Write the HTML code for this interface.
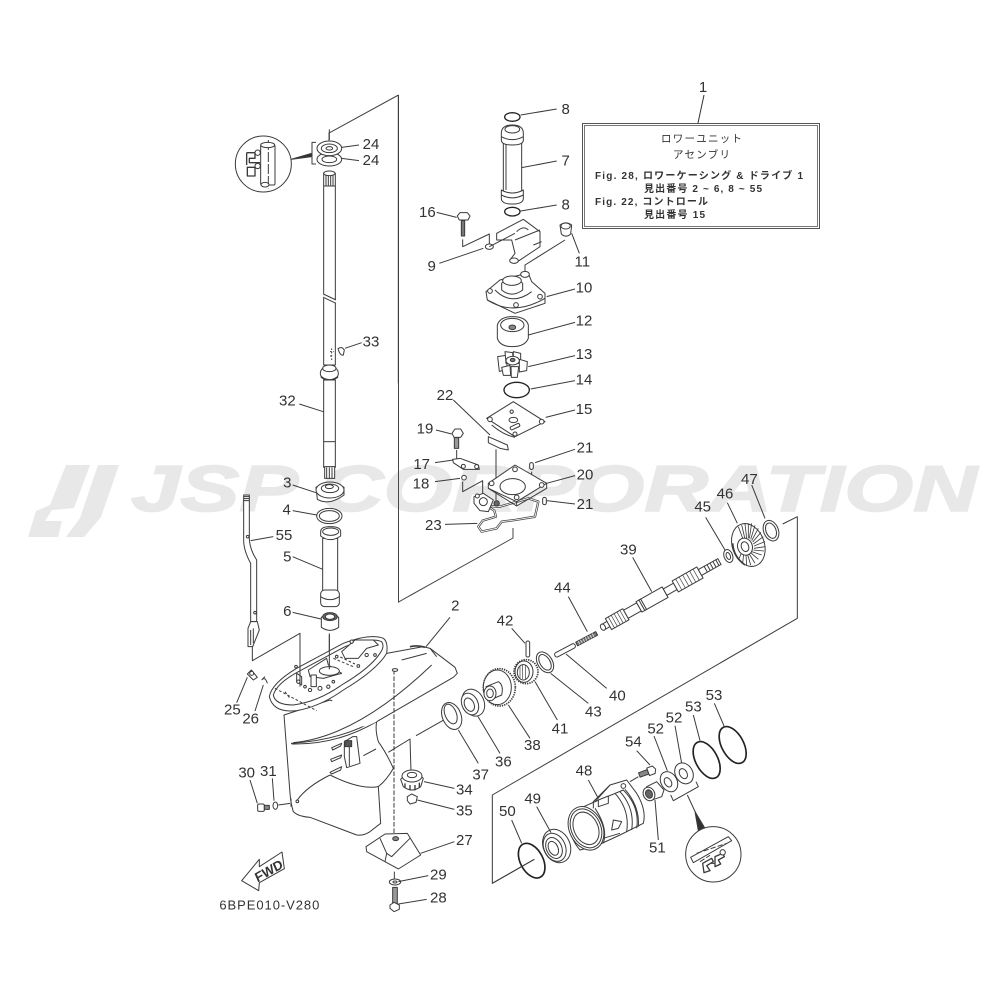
<!DOCTYPE html>
<html><head><meta charset="utf-8"><style>
html,body{margin:0;padding:0;background:#fff}
svg{display:block}
.p *{fill:#fff;stroke:#3a3a3a;stroke-width:3;stroke-linejoin:round}
.p .n{fill:none}
.p .k{fill:#333}
.p .t{fill:none;stroke-width:5;stroke:#222}
.p .f{stroke:none}
.l{fill:none;stroke:#3a3a3a;stroke-width:3}
text{font-family:"Liberation Sans","Noto Sans CJK JP",sans-serif;fill:#333}
.z text{font-size:45px;text-anchor:middle}
.b text{font-size:10px;fill:#333}
</style></head><body>
<svg width="1000" height="1000" viewBox="0 0 1000 1000" xmlns="http://www.w3.org/2000/svg">
<defs><filter id="s" x="0" y="0" width="100%" height="100%"><feGaussianBlur stdDeviation="0.35"/></filter></defs>
<rect width="1000" height="1000" fill="#fff"/>
<g filter="url(#s)">
<!-- watermark -->
<g fill="#e8e8e8">
<polygon points="66,465 90,465 74,508 52,510 45,521 62,521 58,537 28,537 36,511 50,505"/>
<polygon points="98,465 119,465 101,517 84,537 66,537 80,518"/>
<text x="131" y="511" font-size="65" font-weight="bold" font-style="italic" textLength="846" lengthAdjust="spacingAndGlyphs" style="fill:#e8e8e8;stroke:#e8e8e8;stroke-width:1.6">JSP CORPORATION</text>
</g>

<!-- assembly box -->
<g class="b">
<rect x="582.5" y="123.5" width="237" height="105" fill="#fff" stroke="#555" stroke-width="1"/>
<rect x="584.5" y="125.5" width="233" height="101" fill="#fff" stroke="#777" stroke-width="1"/>
<path d="M704 95 L698 123" stroke="#333" fill="none"/>
<text x="661" y="142" textLength="81" style="font-size:10.5px">ロワーユニット</text>
<text x="673" y="158" textLength="57" style="font-size:10.5px">アセンブリ</text>
<text x="595" y="179" textLength="208" font-weight="bold">Fig. 28, ロワーケーシング &amp; ドライブ 1</text>
<text x="644" y="192" textLength="118" font-weight="bold">見出番号 2 ~ 6, 8 ~ 55</text>
<text x="595" y="205" textLength="113" font-weight="bold">Fig. 22, コントロール</text>
<text x="644" y="218" textLength="61" font-weight="bold">見出番号 15</text>
<text x="703" y="92" text-anchor="middle" style="font-size:15px">1</text>
</g>

<!-- main frame lines -->
<path d="M398.5 95 L398.5 602 L513 538 L513 528 M398.5 95 L329 133 L329 142" fill="none" stroke="#444" stroke-width="1"/>

<!-- Zoom 1 region: upper parts -->
<g class="z" transform="translate(400,90) scale(.33333)">
<g class="p">
<ellipse class="t" cx="337" cy="81" rx="23" ry="13" style="stroke-width:4"/>
<ellipse class="t" cx="337" cy="365" rx="23" ry="13" style="stroke-width:4"/>
<rect x="310" y="150" width="55" height="160"/>
<path class="n" d="M318 160V300"/>
<path d="M304 130 Q304 105 337 105 Q370 105 370 130 L370 150 Q370 165 337 165 Q304 165 304 150Z"/>
<ellipse cx="337" cy="118" rx="22" ry="11"/>
<path class="n" d="M304 140 Q337 158 370 140"/>
<path d="M304 300 Q337 318 370 300 L370 325 Q370 342 337 342 Q304 342 304 325Z"/>
<path class="n" d="M304 315 Q337 332 370 315"/>
<!-- 16 bolt -->
<path d="M172 378 L180 368 L202 368 L210 378 L204 390 L178 390Z"/>
<path class="k" d="M184 392h10v46h-10z" style="fill:#777"/>
<path class="n" d="M188 448V470L268 432V465"/>
<!-- 9 plate -->
<path d="M290 430 L370 388 L420 425 L420 470 L345 520 L330 510 L345 490 L335 450 L290 450Z"/>
<ellipse cx="342" cy="512" rx="13" ry="8"/>
<ellipse cx="268" cy="470" rx="12" ry="8"/>
<path class="n" d="M268 470 L345 430 M345 450 L420 420 M400 465 L425 455 M350 425 Q370 405 385 420"/>
<!-- 11 cap -->
<path d="M480 405 Q498 392 515 405 L512 432 Q498 445 484 432Z"/>
<ellipse cx="497" cy="408" rx="14" ry="9"/>
<path class="n" d="M495 450 L375 525 V550"/>
<!-- 10 housing -->
<path d="M258 605 L300 570 L360 555 L385 550 L395 575 L435 610 L435 640 L345 670 L262 630Z"/>
<path d="M305 580 Q335 545 368 580 L368 600 Q335 625 305 600Z"/>
<ellipse cx="336" cy="572" rx="28" ry="14"/>
<ellipse cx="375" cy="553" rx="13" ry="9"/>
<path class="n" d="M285 600 Q335 650 395 605 M262 630 Q340 680 435 625"/>
<circle cx="270" cy="603" r="7"/><circle cx="348" cy="645" r="7"/><circle cx="420" cy="620" r="7"/>
<!-- 12 -->
<path d="M292 705 Q300 680 337 680 Q378 680 385 705 L385 745 Q375 770 337 770 Q300 770 292 745Z"/>
<ellipse cx="337" cy="705" rx="35" ry="20"/>
<ellipse cx="337" cy="712" rx="10" ry="7" class="k" style="fill:#888"/>
<!-- 13 impeller -->
<path d="M293 800 L318 796 L322 838 L298 844Z"/>
<path d="M315 785 L338 788 L340 820 L318 820Z"/>
<path d="M340 785 L362 790 L362 820 L340 820Z"/>
<path d="M358 808 L382 815 L380 842 L358 846Z"/>
<path d="M305 832 L330 826 L332 856 L310 856Z"/>
<path d="M333 830 L356 830 L352 862 L334 862Z"/>
<ellipse cx="338" cy="812" rx="20" ry="13"/>
<ellipse cx="338" cy="810" rx="7" ry="5" style="fill:#777"/>
<ellipse class="t" cx="350" cy="900" rx="38" ry="23" style="stroke-width:4"/>
<!-- 15 plate -->
<path d="M260 985 L340 935 L435 995 L345 1040 Z"/>
<circle cx="270" cy="988" r="7"/><circle cx="425" cy="995" r="7"/><circle cx="345" cy="1032" r="6"/><circle cx="335" cy="965" r="5"/>
<ellipse cx="340" cy="990" rx="13" ry="8"/>
<path class="n" d="M275 1005 Q310 1035 345 1042"/>
<rect x="330" y="1005" width="30" height="10" rx="4" transform="rotate(-25 345 1010)"/>
<!-- 22 -->
<path d="M265 1040 L322 1065 L325 1080 L300 1075 L265 1058Z"/>
<path class="n" d="M288 1078 L288 1230"/>
<!-- 19 -->
<path d="M156 1030 L165 1017 L182 1017 L190 1030 L182 1042 L162 1042Z"/>
<rect x="163" y="1043" width="13" height="32" style="fill:#999"/>
<path class="n" d="M170 1080V1110"/>
<!-- 17 -->
<path d="M158 1108 L180 1105 L235 1125 L238 1138 L190 1138 L160 1118Z"/>
<circle cx="190" cy="1129" r="6"/><circle cx="230" cy="1130" r="6"/>
<circle cx="192" cy="1163" r="7"/>
<path class="n" d="M188 1175V1205L248 1172V1230"/>
<!-- 23 gasket -->
<path class="n" d="M235 1310 L248 1292 L288 1280 L283 1262 L262 1248 L300 1250 L385 1225 L415 1235 L405 1280 L345 1290 L305 1295 L290 1315 L245 1325Z" style="stroke-width:7;stroke:#444"/>
<path class="n" d="M235 1310 L248 1292 L288 1280 L283 1262 L262 1248 L300 1250 L385 1225 L415 1235 L405 1280 L345 1290 L305 1295 L290 1315 L245 1325Z" style="stroke:#fff;stroke-width:2.5"/>
<!-- 21 -->
<rect x="389" y="1118" width="11" height="20" rx="5"/>
<path class="n" d="M395 1145V1190"/>
<rect x="428" y="1222" width="11" height="22" rx="5"/>
<!-- 20 -->
<path d="M265 1180 L345 1125 L440 1180 L350 1235 L265 1195Z"/>
<path class="n" d="M265 1195 L350 1248 L440 1195 V1180 M350 1235V1248"/>
<ellipse cx="338" cy="1190" rx="38" ry="24"/>
<circle cx="275" cy="1180" r="7"/><circle cx="345" cy="1138" r="7"/><circle cx="425" cy="1185" r="7"/><circle cx="350" cy="1222" r="7"/>
<!-- extra plate -->
<path d="M222 1220 L250 1210 L280 1230 L265 1265 L240 1262 L222 1240Z"/>
<circle cx="250" cy="1235" r="12"/><circle cx="232" cy="1218" r="6"/>
<circle cx="290" cy="1240" r="8" style="fill:#666"/>
</g>
<path class="l" d="M362 75L470 57M365 233L470 213M362 363L470 345M110 367L170 382M118 520L250 475M515 430L538 490M440 620L525 597M385 735L525 697M385 830L525 797M392 897L525 872M437 982L525 960M160 930L270 1035M108 1020L155 1032M105 1118L160 1110M105 1175L180 1165M405 1118L525 1078M440 1180L525 1157M440 1232L525 1242M135 1303L232 1300"/>
<text x="497" y="72">8</text><text x="497" y="227">7</text><text x="497" y="359">8</text>
<text x="82" y="381">16</text><text x="95" y="543">9</text><text x="547" y="530">11</text>
<text x="552" y="607">10</text><text x="552" y="707">12</text><text x="552" y="807">13</text>
<text x="552" y="883">14</text><text x="552" y="972">15</text><text x="135" y="930">22</text>
<text x="75" y="1031">19</text><text x="65" y="1137">17</text><text x="63" y="1195">18</text>
<text x="555" y="1087">21</text><text x="555" y="1168">20</text><text x="555" y="1257">21</text>
<text x="100" y="1320">23</text>
<text x="1048" y="1182">47</text><text x="975" y="1225">46</text><text x="908" y="1265">45</text>
<path class="l" d="M1055 1185L1095 1285M982 1238L1012 1300"/>
</g>

<!-- Zoom 4: shaft top -->
<g class="z" transform="translate(210,90) scale(.33333)">
<g class="p">
<circle cx="160" cy="222" r="84"/>
<rect x="152" y="165" width="43" height="120" rx="4"/>
<path class="n" d="M175 150V295" style="stroke-dasharray:30 6"/>
<ellipse cx="173" cy="165" rx="21" ry="8"/><ellipse cx="165" cy="284" rx="12" ry="7"/>
<path class="n" d="M110 188H135V205H118V218H150M110 188V225M110 232H135V258H112V232" style="stroke-width:4"/>
<circle cx="143" cy="188" r="8"/><circle cx="143" cy="228" r="8"/>
<path class="n" d="M318 157H306V222H318"/>
<polygon class="k" points="305,190 243,208 305,200"/>
<ellipse cx="358" cy="208" rx="37" ry="20"/>
<ellipse cx="358" cy="208" rx="22" ry="10"/>
<ellipse cx="358" cy="175" rx="37" ry="22"/>
<ellipse cx="358" cy="175" rx="24" ry="13"/>
<ellipse cx="358" cy="175" rx="10" ry="5"/>
<rect x="341" y="250" width="35" height="575"/>
<path class="n" d="M348 252V288M355 252V288M362 252V288M369 252V288M341 288H376"/>
<ellipse cx="358" cy="250" rx="17" ry="7"/>
<path d="M340 612 L378 630 L378 640 L340 622Z" style="stroke:#fff;stroke-width:1"/>
<path class="n" d="M340 612 L378 630 M340 622 L378 640"/>
<ellipse cx="358" cy="850" rx="27" ry="22"/>
<ellipse cx="358" cy="835" rx="20" ry="10"/>
<path class="n" d="M333 860 Q358 880 384 860" style="stroke-width:5"/>
<rect x="344" y="872" width="30" height="30" style="stroke-width:2"/>
<path class="n" d="M360 785h12M360 798h10M365 775v35" style="stroke-dasharray:5 5"/>
<path d="M384 776 Q395 768 403 780 L400 795 Q390 798 384 776Z"/>
<path class="n" d="M358 118V150 M565 15V880"/>
</g>
<path class="l" d="M395 172L447 165M395 205L447 212M405 775L455 758"/>
<text x="483" y="177">24</text><text x="483" y="225">24</text><text x="483" y="770">33</text>
</g>

<!-- Zoom 5: shaft lower -->
<g class="z" transform="translate(210,380) scale(.33333)">
<g class="p">
<rect x="341" y="0" width="35" height="262"/>
<path class="n" d="M341 185H376"/>
<rect x="344" y="260" width="30" height="35"/>
<path class="n" d="M350 262V295M358 262V295M366 262V295"/>
<path d="M318 322 Q358 295 402 322 L402 345 Q358 378 322 358Z"/>
<ellipse cx="360" cy="330" rx="42" ry="24"/>
<ellipse cx="360" cy="325" rx="26" ry="13"/>
<ellipse cx="358" cy="320" rx="12" ry="6"/>
<ellipse cx="358" cy="408" rx="38" ry="23"/>
<ellipse cx="358" cy="408" rx="30" ry="16"/>
<rect x="338" y="475" width="45" height="165"/>
<rect x="332" y="630" width="56" height="50" rx="12"/>
<path class="n" d="M332 650 Q360 668 388 650"/>
<path d="M332 455 Q332 440 360 440 Q392 440 392 455 L392 468 Q360 490 332 468Z"/>
<ellipse cx="362" cy="455" rx="24" ry="11"/>
<path d="M334 712 Q360 695 386 712 V742 Q360 760 334 742Z"/>
<ellipse cx="360" cy="710" rx="22" ry="12" style="fill:#666"/>
<ellipse cx="360" cy="710" rx="14" ry="8"/>
<path class="n" d="M358 765V910"/>
<!-- 55 rod -->
<path d="M101 345 L118 345 L118 478 Q120 510 140 540 L140 725 L122 725 L122 550 Q100 510 101 478Z"/>
<path class="n" d="M101 350h17M101 356h17M101 362h17"/>
<path d="M122 725 L142 725 L148 750 L128 800 L114 800 L114 745Z"/>
<path class="n" d="M122 750V795M130 745V790"/>
<circle cx="113" cy="470" r="4"/><circle cx="135" cy="698" r="4"/>
</g>
<path class="l" d="M268 72L340 95M248 315L318 338M248 392L320 405M190 470L122 482M248 530L338 568M248 697L333 717"/>
<text x="232" y="77">32</text><text x="232" y="323">3</text><text x="230" y="403">4</text>
<text x="222" y="480">55</text><text x="232" y="545">5</text><text x="232" y="708">6</text>
</g>

<!-- Zoom 2: casing -->
<g class="z" transform="translate(210,590) scale(.33333)">
<g class="p">
<path d="M222 375 L240 610 Q242 640 250 665 Q265 680 300 682 L440 735 Q460 738 480 725 L512 700 L505 590 Q530 570 550 535 Q530 490 505 455 Q495 420 500 395 L360 330Z"/>
<path class="n" d="M243 460 Q400 450 505 385 M245 462 Q380 465 500 395 M262 630 Q290 590 360 555 M505 590 Q450 600 360 555"/>
<path class="f" d="M530 190 L640 170 L660 175 L735 232 L742 250 L730 262 L500 395 Q420 440 340 350 L480 260Z"/>
<path class="n" d="M530 190 L640 170 L660 175 L735 232 L742 250 L730 262 L500 395"/>
<path class="n" d="M575 210 L650 190 M660 175 L680 200 M250 458 Q440 440 665 225"/>
<path class="n" d="M600 170 Q625 165 645 172" style="stroke-width:5"/>
<path d="M178 320 Q185 280 260 235 L400 160 Q480 130 520 145 Q535 155 530 190 Q500 240 400 300 Q330 350 260 362 Q190 370 178 320Z"/>
<path class="n" d="M190 315 Q200 280 265 245 L405 170 Q480 140 515 155 Q525 170 510 190 Q480 235 395 285 Q325 335 250 345 Q195 345 190 315Z"/>
<path d="M395 185 L435 150 L490 150 L505 165 L470 175 L445 205 L405 205Z"/>
<path d="M295 240 L350 205 L355 225 L395 250 L340 265 L300 260Z"/>
<ellipse cx="358" cy="243" rx="30" ry="13"/>
<path class="n" d="M370 205 L430 230 M378 195 L435 222 M225 305 L240 325 M195 295 L320 362" style="stroke-dasharray:8 6"/>
<path d="M303 255h16v35h-16z"/>
<path d="M260 250l15 10v25l-15 -10z"/>
<g style="stroke-width:2">
<circle cx="300" cy="300" r="5"/><circle cx="330" cy="295" r="6"/><circle cx="355" cy="290" r="5"/><circle cx="370" cy="275" r="4"/><circle cx="265" cy="275" r="5"/><circle cx="285" cy="290" r="4"/><circle cx="258" cy="230" r="4"/><circle cx="445" cy="228" r="4"/><circle cx="425" cy="155" r="5"/><circle cx="470" cy="195" r="5"/><circle cx="495" cy="195" r="4"/><circle cx="380" cy="200" r="4"/>
</g>
<path class="n" d="M358 130V238"/>
<path class="n" d="M127 170V212L270 130V290"/>
<!-- side vents -->
<path d="M403 455 L428 440 L440 440 L450 520 L410 533 L403 500Z"/>
<rect x="405" y="452" width="20" height="18" style="fill:#555"/>
<path class="n" d="M418 470V528"/>
<path d="M365 473 L395 460 L392 468 L368 480Z"/>
<path d="M362 508 L395 495 L392 503 L365 515Z"/>
<path d="M360 547 L395 530 L392 540 L365 552Z"/>
<path class="n" d="M460 497 L498 477 M535 487 L600 447 L603 545 M618 437 L705 388"/>
<!-- dashed -->
<path class="n" d="M552 240 V735" style="stroke-dasharray:14 5"/>
<ellipse cx="555" cy="240" rx="8" ry="4"/>
<!-- 37 -->
<ellipse cx="725" cy="378" rx="28" ry="42" transform="rotate(-22 725 378)"/>
<ellipse cx="722" cy="372" rx="17" ry="31" transform="rotate(-22 722 372)"/>
<!-- 36 -->
<ellipse cx="790" cy="338" rx="32" ry="42" transform="rotate(-25 790 338)"/>
<ellipse cx="780" cy="342" rx="24" ry="34" transform="rotate(-25 780 342)"/>
<ellipse cx="778" cy="344" rx="14" ry="21" transform="rotate(-25 778 344)"/>
<!-- 34 -->
<path d="M572 568 Q605 530 640 565 L632 590 Q605 610 580 590Z"/>
<ellipse cx="606" cy="558" rx="30" ry="18"/>
<ellipse cx="606" cy="555" rx="14" ry="8"/>
<path class="n" d="M585 580v14M600 585v16M615 585v16M628 578v14" style="stroke-width:4"/>
<path d="M592 620 L605 612 L622 620 L618 637 L600 642 L592 632Z"/>
<!-- 25,26,30,31 -->
<path d="M112 252 L124 240 L142 262 L130 270Z"/>
<circle cx="125" cy="250" r="6"/>
<path class="n" d="M155 270 Q165 258 172 280 M155 270 L165 260" style="stroke-width:3"/>
<rect x="143" y="642" width="20" height="22" rx="4"/>
<path class="k" d="M163 646h15v12h-15z" style="fill:#888"/>
<ellipse cx="196" cy="647" rx="7" ry="11"/>
<circle cx="262" cy="634" r="4"/>
<path class="n" d="M205 645L240 640M243 625V650"/>
<!-- 27 -->
<path d="M468 770 L525 732 L592 730 L632 795 L565 837 L525 815 L470 785Z"/>
<path class="n" d="M510 745 L530 790 L545 800 L600 745 M525 815 L530 790"/>
<ellipse cx="557" cy="746" rx="9" ry="6" style="fill:#888"/>
<!-- 29, 28 -->
<ellipse cx="555" cy="876" rx="17" ry="9"/>
<ellipse cx="555" cy="876" rx="6" ry="3"/>
<path class="n" d="M553 845V867"/>
<rect x="548" y="892" width="14" height="48" style="fill:#999"/>
<path d="M540 945 L552 937 L568 945 L568 958 L552 965 L540 955Z"/>
<!-- FWD arrow -->
<polygon points="95,872 148,808 148,830 216,786 223,836 148,878 146,902"/>
</g>
<path class="l" d="M720 82L648 170M112 262L80 338M160 285L135 363M745 420L805 520M803 378L870 490M120 570L142 640M187 565L192 632M642 575L733 595M622 630L733 658M632 790L733 755M565 875L655 857M565 942L650 928"/>
<text x="736" y="62">2</text><text x="67" y="373">25</text><text x="122" y="400">26</text>
<text x="812" y="568">37</text><text x="880" y="530">36</text>
<text x="110" y="562">30</text><text x="175" y="558">31</text>
<text x="763" y="613">34</text><text x="763" y="677">35</text><text x="763" y="765">27</text>
<text x="685" y="868">29</text><text x="685" y="938">28</text>
<text transform="translate(182,855) rotate(-30) skewX(-6)" style="font-size:40px;font-weight:bold">FWD</text>
<text x="178" y="958" textLength="300" style="font-size:39px">6BPE010-V280</text>
</g>

<!-- Zoom 3: drive parts -->
<g class="z" transform="translate(480,500) scale(.33333)">
<g class="p">
<path class="n" d="M908 72 L952 50 V355 L37 885 V1150 L163 1078"/>
<ellipse cx="873" cy="92" rx="22" ry="32" transform="rotate(-22 873 92)"/>
<ellipse cx="873" cy="92" rx="15" ry="24" transform="rotate(-22 873 92)"/>
<!-- 46 gear -->
<ellipse cx="805" cy="135" rx="48" ry="66" transform="rotate(-20 805 135)"/>
<path class="n" d="M775 80L790 120M785 75L795 117M795 72L800 115M805 70L805 115M815 70L808 115M825 76L812 118M835 85L815 122M843 97L818 126M850 110L820 132M855 125L822 138M855 140L822 145M852 153L820 150M845 165L815 155M835 178L812 158M825 190L808 162M812 195L803 164M800 198L798 165M788 190L791 162M775 180L785 158" style="stroke-width:2.5"/>
<ellipse cx="795" cy="140" rx="22" ry="26" transform="rotate(-20 795 140)"/>
<ellipse cx="795" cy="140" rx="11" ry="15" transform="rotate(-20 795 140)"/>
<path class="n" d="M758 130 Q760 170 795 195" style="stroke-width:5"/>
<!-- 45 -->
<ellipse cx="745" cy="168" rx="13" ry="20" transform="rotate(-20 745 168)"/>
<ellipse cx="745" cy="168" rx="6" ry="11" transform="rotate(-20 745 168)"/>
<!-- 39 shaft -->
<g transform="translate(368,382) rotate(-29.4)">
<rect x="0" y="-9" width="22" height="18"/>
<rect x="20" y="-19" width="60" height="38"/>
<path class="n" d="M30 -19V19M40 -19V19M50 -19V19M60 -19V19M70 -19V19" style="stroke-width:2"/>
<rect x="80" y="-14" width="45" height="28"/>
<rect x="125" y="-18" width="90" height="36"/>
<rect x="135" y="-18" width="6" height="36"/>
<rect x="215" y="-11" width="35" height="22"/>
<rect x="250" y="-19" width="85" height="38"/>
<path class="n" d="M262 -19V19M274 -19V19M286 -19V19M298 -19V19M310 -19V19M322 -19V19" style="stroke-width:2"/>
<rect x="335" y="-10" width="67" height="20"/>
<path class="n" d="M355 -10V10M365 -10V10M375 -10V10M385 -10V10M395 -10V10" style="stroke-width:3"/>
<ellipse cx="1" cy="0" rx="7" ry="10"/>
</g>
<!-- 44 spring -->
<g transform="translate(290,432) rotate(-28)">
<rect x="0" y="-6" width="68" height="12" style="fill:#777"/>
<path class="n" d="M8 -6V6M16 -6V6M24 -6V6M32 -6V6M40 -6V6M48 -6V6M56 -6V6" style="stroke:#fff;stroke-width:2"/>
</g>
<!-- 40 pin -->
<g transform="translate(225,467) rotate(-28)">
<rect x="0" y="-7" width="68" height="14" rx="6"/>
</g>
<!-- 43 -->
<ellipse cx="195" cy="487" rx="22" ry="34" transform="rotate(-32 195 487)"/>
<ellipse cx="195" cy="487" rx="15" ry="26" transform="rotate(-32 195 487)"/>
<!-- 42 -->
<rect x="138" y="423" width="11" height="48" rx="5"/>
<!-- 41 -->
<ellipse cx="138" cy="515" rx="36" ry="36" style="stroke-width:5;stroke-dasharray:4 3"/>
<ellipse cx="132" cy="515" rx="27" ry="32"/>
<ellipse cx="130" cy="517" rx="18" ry="23"/>
<path class="n" d="M120 497v38M128 495v42M136 497v40" style="stroke-width:2"/>
<!-- 38 -->
<ellipse cx="58" cy="562" rx="48" ry="56" style="stroke-width:5;stroke-dasharray:4 3"/>
<ellipse cx="52" cy="562" rx="42" ry="52"/>
<path d="M18 560 L55 545 Q72 555 65 585 L30 600Z"/>
<ellipse cx="30" cy="580" rx="18" ry="22"/>
<ellipse cx="30" cy="580" rx="10" ry="13"/>
<!-- 48 -->
<path d="M390 855 L440 840 L470 880 Q500 930 490 970 L420 1005 L355 1035 L300 1050 Q265 1010 270 960 L300 925 L345 905Z"/>
<ellipse cx="318" cy="985" rx="50" ry="68" transform="rotate(-25 318 985)"/>
<ellipse cx="318" cy="985" rx="44" ry="61" transform="rotate(-25 318 985)"/>
<ellipse cx="318" cy="985" rx="36" ry="51" transform="rotate(-25 318 985)"/>
<path class="n" d="M345 925 Q385 985 370 1030 M345 905 L430 870 Q480 920 470 985 M405 880 Q450 930 440 995 M420 875 Q465 925 455 990 M435 868 Q480 920 475 980 M390 855 L340 905 V925" style="stroke-width:3"/>
<path d="M400 960 L425 965 L415 985 L395 990Z"/>
<path d="M355 900 L385 888 L385 910 L355 920Z"/>
<circle cx="430" cy="858" r="7"/>
<path class="n" d="M370 1015 L420 1000"/>
<!-- 49 -->
<ellipse cx="230" cy="1038" rx="40" ry="52" transform="rotate(-25 230 1038)"/>
<ellipse cx="224" cy="1042" rx="32" ry="44" transform="rotate(-25 224 1042)"/>
<ellipse cx="222" cy="1044" rx="23" ry="33" transform="rotate(-25 222 1044)"/>
<ellipse cx="220" cy="1045" rx="14" ry="22" transform="rotate(-25 220 1045)"/>
<!-- 50 -->
<ellipse class="t" cx="155" cy="1082" rx="34" ry="56" transform="rotate(-28 155 1082)"/>
<path class="n" d="M37 1150 L163 1078"/>
<!-- 51 -->
<path d="M500 860 L530 845 L552 870 L545 890 L510 902Z"/>
<ellipse cx="507" cy="882" rx="17" ry="21" transform="rotate(-25 507 882)"/>
<ellipse cx="507" cy="882" rx="10" ry="13" transform="rotate(-25 507 882)" style="fill:#666"/>
<!-- 54 -->
<g transform="translate(478,825) rotate(-20)">
<rect x="0" y="-7" width="28" height="14" style="fill:#888"/>
<path d="M28 -12 L46 -12 L52 0 L46 12 L28 12Z"/>
</g>
<path class="n" d="M450 845 L475 830"/>
<!-- 52 -->
<ellipse cx="567" cy="845" rx="24" ry="32" transform="rotate(-30 567 845)"/>
<ellipse cx="564" cy="847" rx="10" ry="15" transform="rotate(-30 564 847)"/>
<ellipse cx="612" cy="820" rx="26" ry="33" transform="rotate(-30 612 820)"/>
<ellipse cx="610" cy="821" rx="11" ry="16" transform="rotate(-30 610 821)"/>
<!-- 53 -->
<ellipse class="t" cx="680" cy="780" rx="33" ry="60" transform="rotate(-28 680 780)"/>
<ellipse class="t" cx="758" cy="735" rx="33" ry="60" transform="rotate(-28 758 735)"/>
<!-- bracket, pointer, detail -->
<path class="n" d="M572 885 L580 902 L655 860 L648 845"/>
<path class="n" d="M622 885 L650 945"/>
<polygon class="k" points="645,935 675,985 655,992"/>
<circle cx="700" cy="1063" r="83"/>
<path d="M632 1072 L745 1010 L755 1022 L640 1088Z"/>
<path class="n" d="M660 1085 L690 1066 M690 1090 H708 M650 1060 L740 1030" style="stroke-dasharray:16 6"/>
<path class="n" d="M668 1090 L695 1075 L700 1085 L680 1097 L690 1112 L672 1118Z M705 1070 L728 1060 L733 1070 L715 1080 L722 1092 L705 1100Z" style="stroke-width:4"/>
<circle cx="728" cy="1057" r="8"/>
</g>
<path class="l" d="M677 52L735 150M458 172L515 275M265 290L322 395M95 385L135 430M258 462L380 565M212 520L325 610M165 545L232 660M85 615L150 715M325 840L355 895M170 920L213 998M95 960L125 1030M525 900L535 1020M470 752L510 795M522 708L562 812M585 677L605 790M640 645L660 722M703 610L733 680"/>
<text x="445" y="163">39</text><text x="247" y="277">44</text><text x="75" y="377">42</text>
<text x="412" y="602">40</text><text x="340" y="649">43</text><text x="240" y="701">41</text>
<text x="157" y="750">38</text>
<text x="702" y="600">53</text><text x="640" y="635">53</text><text x="582" y="668">52</text><text x="527" y="700">52</text>
<text x="460" y="740">54</text><text x="312" y="827">48</text><text x="158" y="910">49</text><text x="82" y="948">50</text><text x="532" y="1058">51</text>
</g>
</g>
</svg>
</body></html>
